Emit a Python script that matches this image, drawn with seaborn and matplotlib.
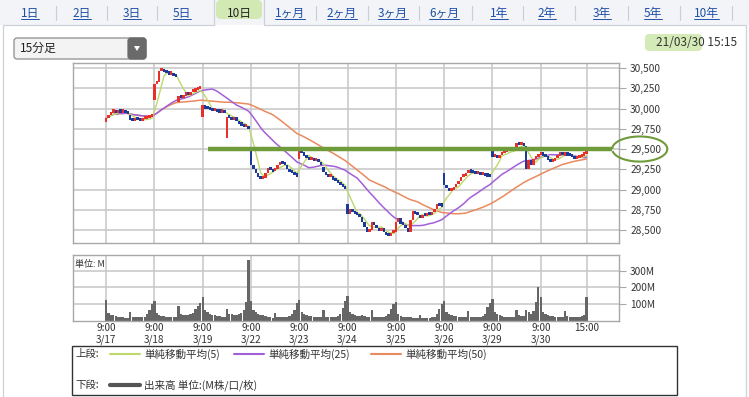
import numpy as np
import pandas as pd
import matplotlib
matplotlib.use("Agg")
import matplotlib.pyplot as plt
from matplotlib.patches import Rectangle, FancyBboxPatch, Arc, Polygon
from matplotlib.lines import Line2D
from matplotlib.transforms import Affine2D
import seaborn as sns

sns.set_theme(style="white")
plt.rcParams['font.family'] = ['Noto Sans CJK JP', 'DejaVu Sans']

W, H = 749, 397

# --- データ (15分足, 1日20本) ---
days = ['3/17', '3/18', '3/19', '3/22', '3/23', '3/24', '3/25', '3/26', '3/29', '3/30']

close_0317 = [29880, 29920, 29950, 29960, 29940, 29970, 29950, 29955, 29945, 29930,
              29860, 29850, 29870, 29860, 29850, 29865, 29870, 29880, 29890, 29900]
close_0318 = [30300, 30330, 30460, 30480, 30450, 30440, 30420, 30430, 30400, 30390,
              30150, 30130, 30160, 30180, 30170, 30200, 30210, 30230, 30240, 30250]
close_0319 = [30040, 30000, 29990, 29980, 29970, 29985, 29960, 29950, 29960, 29945,
              29900, 29880, 29860, 29890, 29840, 29810, 29790, 29770, 29780, 29750]
close_0322 = [29300, 29250, 29200, 29160, 29130, 29140, 29200, 29270, 29240, 29220,
              29250, 29300, 29340, 29320, 29300, 29250, 29220, 29200, 29180, 29160]
close_0323 = [29480, 29450, 29420, 29390, 29360, 29380, 29350, 29370, 29340, 29300,
              29220, 29180, 29150, 29170, 29120, 29100, 29080, 29050, 29030, 29010]
close_0324 = [28700, 28760, 28720, 28700, 28680, 28660, 28600, 28540, 28480, 28500,
              28600, 28560, 28520, 28490, 28530, 28470, 28440, 28430, 28460, 28480]
close_0325 = [28600, 28650, 28580, 28560, 28520, 28470, 28620, 28740, 28700, 28680,
              28650, 28680, 28670, 28700, 28690, 28720, 28760, 28820, 28800, 28790]
close_0326 = [29060, 29020, 28980, 28990, 29030, 29070, 29110, 29150, 29170, 29190,
              29240, 29210, 29200, 29190, 29200, 29180, 29190, 29170, 29160, 29150]
close_0329 = [29400, 29420, 29390, 29430, 29450, 29460, 29470, 29480, 29470, 29490,
              29580, 29550, 29560, 29540, 29250, 29360, 29300, 29380, 29400, 29420]
close_0330 = [29450, 29420, 29400, 29370, 29340, 29350, 29390, 29420, 29440, 29430,
              29440, 29420, 29410, 29400, 29380, 29390, 29400, 29420, 29440, 29450]

# 前場・後場の始値
am_open = [29830, 30100, 29900, 29480, 29380, 28820, 28480, 29210, 29490, 29430]
pm_open = [29920, 30080, 29640, 29230, 29280, 28500, 28670, 29200, 29490, 29420]

# 出来高 (M)
vol_0317 = [128, 48, 38, 34, 30, 26, 22, 22, 20, 20, 54, 24, 22, 22, 22, 22, 24, 44, 64, 100]
vol_0318 = [120, 50, 38, 30, 28, 26, 24, 22, 22, 22, 90, 40, 36, 34, 36, 40, 50, 70, 90, 110]
vol_0319 = [144, 64, 54, 44, 38, 34, 30, 28, 26, 24, 74, 44, 40, 38, 36, 40, 50, 64, 114, 365]
vol_0322 = [120, 64, 54, 44, 38, 34, 28, 24, 22, 20, 48, 24, 22, 22, 22, 24, 28, 40, 64, 110]
vol_0323 = [128, 54, 44, 36, 30, 28, 26, 24, 22, 22, 64, 26, 24, 22, 22, 24, 30, 44, 80, 120]
vol_0324 = [150, 54, 44, 36, 30, 28, 34, 30, 26, 24, 64, 24, 22, 22, 24, 26, 30, 40, 70, 100]
vol_0325 = [114, 40, 30, 26, 24, 22, 22, 20, 20, 20, 38, 20, 20, 20, 20, 22, 26, 40, 70, 100]
vol_0326 = [120, 54, 44, 36, 30, 28, 26, 24, 22, 22, 58, 24, 22, 22, 22, 24, 28, 44, 84, 110]
vol_0329 = [130, 54, 44, 34, 30, 26, 24, 22, 22, 22, 64, 34, 30, 28, 64, 54, 40, 60, 114, 200]
vol_0330 = [140, 54, 44, 34, 30, 28, 26, 24, 22, 22, 58, 28, 26, 24, 24, 24, 26, 28, 34, 144]

price_ticks = [28500, 28750, 29000, 29250, 29500, 29750, 30000, 30250, 30500]
vol_ticks = [100, 200, 300]
level = 29500          # 書き込みの水平線
level_start_bar = 42

tab_labels = ['1日', '2日', '3日', '5日', '10日', '1ヶ月', '2ヶ月', '3ヶ月', '6ヶ月',
              '1年', '2年', '3年', '5年', '10年']
selected_tab = '10日'

# --- 整形 ---
closes = np.array(close_0317 + close_0318 + close_0319 + close_0322 + close_0323 +
                  close_0324 + close_0325 + close_0326 + close_0329 + close_0330, dtype=float)
vols = np.array(vol_0317 + vol_0318 + vol_0319 + vol_0322 + vol_0323 +
                vol_0324 + vol_0325 + vol_0326 + vol_0329 + vol_0330, dtype=float)
n = len(closes)
opens = np.r_[closes[0], closes[:-1]]
for d in range(len(days)):
    opens[d * 20] = am_open[d]
    opens[d * 20 + 10] = pm_open[d]

df = pd.DataFrame({'bar': np.arange(n), 'open': opens, 'close': closes, 'vol': vols})
df['sma5'] = df['close'].rolling(5, min_periods=1).mean()
df['sma25'] = df['close'].rolling(25, min_periods=1).mean()
df['sma50'] = df['close'].rolling(50, min_periods=1).mean()

day_ticks = [d * 20 for d in range(len(days))] + [n - 1]
day_labels = [f'9:00\n{d}' for d in days] + ['15:00']

UP, DOWN = '#e8302a', '#1b3a9a'
C5, C25, C50 = '#bcd96c', '#a35fd8', '#e98a5f'
GRID = '#c6c6c6'
FRAME = '#a8a8a8'
MARK = '#6f9b3b'

fig = plt.figure(figsize=(W / 100, H / 100), dpi=100)
fig.patch.set_facecolor('white')
px = Affine2D().scale(1 / W, -1 / H).translate(0, 1) + fig.transFigure


def style_axes(ax):
    ax.set_facecolor('white')
    for s in ax.spines.values():
        s.set_color(FRAME)
        s.set_linewidth(1)
    ax.grid(True, color=GRID, lw=1.1)
    ax.set_axisbelow(True)
    ax.set_xlim(-13.7, 212.4)
    ax.set_xticks(day_ticks)
    ax.yaxis.tick_right()
    ax.tick_params(axis='y', right=True, length=5, width=0.8, color=FRAME,
                   labelsize=7.3, labelcolor='#333333', pad=3)


# --- 上段: ローソク足 + 移動平均 ---
ax = fig.add_axes([73 / W, 1 - 243 / H, 546 / W, 180 / H])
style_axes(ax)
ax.set_ylim(28340, 30562)
ax.set_yticks(price_ticks)
ax.set_yticklabels([f'{v:,}' for v in price_ticks])
ax.tick_params(axis='x', length=0, labelbottom=False)

sns.lineplot(data=df, x='bar', y='sma50', ax=ax, color=C50, lw=1.1, zorder=3)
sns.lineplot(data=df, x='bar', y='sma25', ax=ax, color=C25, lw=1.1, zorder=3)
sns.lineplot(data=df, x='bar', y='sma5', ax=ax, color=C5, lw=1.0, zorder=3)
ax.set_xlabel('')
ax.set_ylabel('')

body_low = np.minimum(df['open'], df['close'])
body_h = np.maximum(np.abs(df['close'] - df['open']), 38)
colors = [UP if c >= o else DOWN for o, c in zip(df['open'], df['close'])]
ax.bar(df['bar'], body_h, bottom=body_low, width=1.0, color=colors, linewidth=0, zorder=4)

# 手書きの線と丸
ax.plot([level_start_bar, 209.5], [level, level], color=MARK, lw=3.2,
        solid_capstyle='butt', clip_on=False, zorder=5)
ax.add_patch(Arc((221, level), 22.8, 310, theta1=-115, theta2=182, color=MARK,
                 lw=1.5, clip_on=False, zorder=5))

# --- 下段: 出来高 ---
axv = fig.add_axes([73 / W, 1 - 321 / H, 546 / W, 66 / H])
style_axes(axv)
axv.bar(df['bar'], df['vol'], width=0.95, color='#666666', linewidth=0, zorder=2)
axv.set_ylim(0, 393)
axv.set_yticks(vol_ticks)
axv.set_yticklabels([f'{v}M' for v in vol_ticks])
axv.set_xticklabels(day_labels, fontsize=7.2, color='#333333', linespacing=1.2)
axv.tick_params(axis='x', length=0, pad=1.5)
axv.set_xlabel('')
axv.set_ylabel('')
axv.text(0.004, 0.86, '単位: M', transform=axv.transAxes, fontsize=6.5,
         color='#333333', va='center', ha='left')

# --- タブ列 ---
fig.add_artist(Rectangle((0, 0), W, 25, transform=px, facecolor='#f2f4f8',
                         edgecolor='none', zorder=0))
fig.add_artist(FancyBboxPatch((216, 0), 46, 19, boxstyle='round,pad=0,rounding_size=5',
                              transform=px, facecolor='#d2e9b3', edgecolor='none', zorder=1))
for seg in [([3, 214], [25, 25]), ([264, 746], [25, 25]), ([214, 214], [0, 25]),
            ([264, 264], [0, 25]), ([3, 3], [25, 397]), ([746, 746], [25, 397])]:
    fig.add_artist(Line2D(seg[0], seg[1], transform=px, color='#cdd2d9', lw=0.9, zorder=2))

tab_x = [30, 82, 132, 182, 239, 290, 342, 393, 444, 499, 547, 602, 653, 706]
link_texts = []
for i, (lab, x) in enumerate(zip(tab_labels, tab_x)):
    sel = lab == selected_tab
    t = fig.text(x, 13, lab, transform=px, ha='center', va='center', fontsize=8.5,
                 color='#222222' if sel else '#1f4fa6', zorder=3)
    if not sel:
        link_texts.append(t)
    if i + 1 < len(tab_x) and not sel and tab_labels[i + 1] != selected_tab:
        xm = (x + tab_x[i + 1]) / 2
        fig.add_artist(Line2D([xm, xm], [6, 20], transform=px, color='#c9ced6', lw=0.8))
fig.add_artist(Line2D([732, 732], [6, 20], transform=px, color='#c9ced6', lw=0.8))

# --- ドロップダウン ---
fig.add_artist(FancyBboxPatch((14, 38), 132, 21, boxstyle='round,pad=0,rounding_size=3',
                              transform=px, facecolor='#f3f3f3', edgecolor='#8d8d8d', lw=0.9))
fig.add_artist(FancyBboxPatch((128, 38), 18, 21, boxstyle='round,pad=0,rounding_size=3',
                              transform=px, facecolor='#6a6a6a', edgecolor='#6a6a6a', lw=0.9))
fig.add_artist(Polygon([(134, 46), (140, 46), (137, 51)], closed=True, transform=px,
                       facecolor='white', edgecolor='none'))
fig.text(20, 48.5, '15分足', transform=px, ha='left', va='center', fontsize=8.5,
         color='#222222')

# --- 日時 ---
fig.add_artist(FancyBboxPatch((645, 34), 57, 17, boxstyle='round,pad=0,rounding_size=4',
                              transform=px, facecolor='#d4ebb8', edgecolor='none'))
fig.text(737, 43, '21/03/30 15:15', transform=px, ha='right', va='center',
         fontsize=8.5, color='#333333')

# --- 凡例 ---
fig.add_artist(Rectangle((72, 346), 605, 49, transform=px, facecolor='white',
                         edgecolor='#333333', lw=1))
legend_rows = [
    (354, '上段:', [(110, C5, 1.5, '単純移動平均(5)'), (234, C25, 1.5, '単純移動平均(25)'),
                    (371, C50, 1.5, '単純移動平均(50)')]),
    (385, '下段:', [(110, '#555555', 3, '出来高 単位:(M株/口/枚)')]),
]
for y, head, items in legend_rows:
    fig.text(75, y, head, transform=px, ha='left', va='center', fontsize=7.5, color='#333333')
    for x0, c, lw, lab in items:
        fig.add_artist(Line2D([x0, x0 + 30], [y, y], transform=px, color=c, lw=lw))
        fig.text(x0 + 34, y, lab, transform=px, ha='left', va='center', fontsize=7.6,
                 color='#333333')

# リンクの下線
fig.canvas.draw()
rend = fig.canvas.get_renderer()
for t in link_texts:
    bb = t.get_window_extent(rend)
    fig.add_artist(Line2D([bb.x0 / W, bb.x1 / W], [(bb.y0 + 0.5) / H] * 2,
                          transform=fig.transFigure, color='#1f4fa6', lw=0.7))

fig.savefig('out.png', dpi=100, facecolor='white')
